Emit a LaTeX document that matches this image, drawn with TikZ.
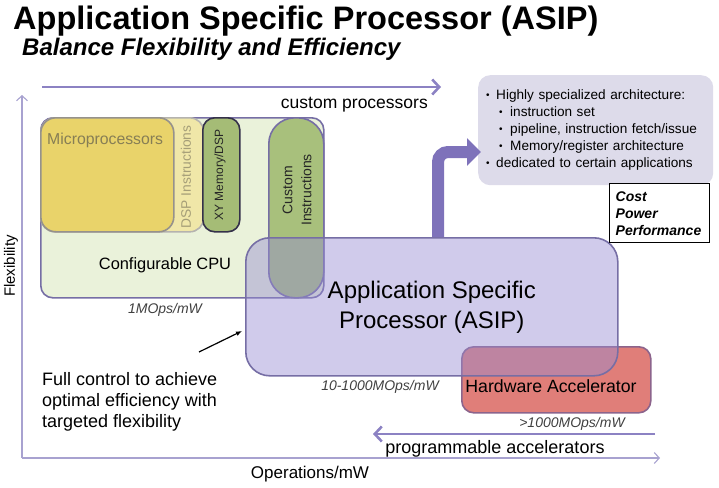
\documentclass[tikz,border=0pt]{standalone}
\usepackage{fontspec}
\setmainfont{Liberation Sans}
\usetikzlibrary{arrows.meta,positioning}

\definecolor{boxline}{RGB}{118,110,165}
\definecolor{cpufill}{RGB}{234,242,218}
\definecolor{microfill}{RGB}{233,211,106}
\definecolor{microline}{RGB}{150,146,140}
\definecolor{dspfill}{RGB}{240,231,168}
\definecolor{xyfill}{RGB}{165,188,118}
\definecolor{custfill}{RGB}{168,192,124}
\definecolor{asipfill}{RGB}{150,140,210}
\definecolor{hwfill}{RGB}{224,126,121}
\definecolor{hwline}{RGB}{140,100,140}
\definecolor{infofill}{RGB}{221,219,234}
\definecolor{arrowcol}{RGB}{126,114,186}
\definecolor{thincol}{RGB}{140,130,195}
\definecolor{axiscol}{RGB}{168,162,208}
\definecolor{microtext}{RGB}{135,126,85}
\definecolor{dsptext}{RGB}{165,158,120}

\newcommand{\fsz}[2]{\fontsize{#1}{#2}\selectfont}
\newcommand{\blt}{\raisebox{1.3pt}{\fsz{10}{10}\textbullet}}
\newcommand{\itm}{\makebox[10pt][l]{\blt}}
\newcommand{\subitm}{\hspace*{13pt}\makebox[11pt][l]{\blt}}

\begin{document}
\begin{tikzpicture}[x=1pt, y=-1pt,
  box/.style={draw=boxline, line width=1.6pt, anchor=north west, inner sep=0pt},
  lbl/.style={inner sep=0pt, align=center},
  rate/.style={lbl, font=\fsz{14}{16}\itshape, text=black!75},
  thinarr/.style={-{Straight Barb[length=7pt,width=15pt]}, line width=2.6pt, draw=thincol},
  axis/.style={-{Straight Barb[length=5pt,width=11pt]}, line width=1.1pt, draw=axiscol},
  fatarr/.style={-{Triangle[length=14pt,width=27pt]}, line width=12pt, draw=arrowcol, rounded corners=10pt}
]
\useasboundingbox (0,0) rectangle (719,487);

\node[anchor=base west, inner sep=0pt, font=\fsz{32.5}{36}\bfseries] (title) at (13,30) {Application Specific Processor (ASIP)};
\node[anchor=base west, inner sep=0pt, font=\fsz{24}{28}\bfseries\itshape] (subtitle) at (22,56) {Balance Flexibility and Efficiency};

\coordinate (origin) at (22,458);
\coordinate (ytop) at (22,95);
\coordinate (xend) at (660,458);
\draw[axis] (origin) -- (ytop);
\draw[axis] (origin) -- (xend);
\node[lbl, rotate=90, font=\fsz{15}{18}] (flex) at (11,266) {Flexibility};
\node[lbl, font=\fsz{17}{20}] (ops) at (310,474) {Operations/mW};

\coordinate (cpstart) at (42,87);
\coordinate (cpend) at (441,87);
\draw[thinarr] (cpstart) -- (cpend);
\node[lbl, font=\fsz{17.5}{20}, below left=10pt and 13pt of cpend] (custproc) {custom processors};

\node[box, fill=cpufill, rounded corners=12pt, minimum width=283, minimum height=180] (cpu) at (40,117) {};
\node[box, fill=dspfill, draw=microline!70, rounded corners=14pt, minimum width=163, minimum height=114] (dsp) at (40,117) {};
\node[box, fill=microfill, draw=microline, rounded corners=15pt, minimum width=133, minimum height=114] (micro) at (40,117) {};
\node[box, fill=xyfill, draw=black!55!boxline, rounded corners=12pt, minimum width=37, minimum height=114] (xy) at (202,117) {};
\node[box, fill=custfill, rounded corners=26pt, minimum width=55, minimum height=180] (cust) at (268,117) {};

\node[lbl, anchor=west, font=\fsz{15.8}{18}, text=microtext] (microtxt) at (47,140) {Microprocessors};
\node[lbl, rotate=90, font=\fsz{13.8}{16}, text=dsptext] (dsptxt) at (186,177) {DSP Instructions};
\node[lbl, rotate=90, font=\fsz{12}{14}, text=black!85] (xytxt) at (220,175) {XY Memory/DSP};
\node[lbl, rotate=90, font=\fsz{14}{19}, text=black!85] (custtxt) at (297,190) {Custom\\Instructions};
\node[lbl, font=\fsz{16.4}{19}] (cputxt) at (165,265) {Configurable CPU};
\node[rate] (rate1) at (165,310) {1MOps/mW};

\node[box, fill=hwfill, draw=hwline, rounded corners=12pt, minimum width=189, minimum height=66] (hw) at (461,346) {};
\node[box, fill=asipfill, fill opacity=0.45, text opacity=1, rounded corners=24pt, minimum width=372, minimum height=138, align=center, font=\fsz{24}{30}] (asip) at (245,237) {Application Specific\\Processor (ASIP)};
\node[lbl, font=\fsz{17.7}{20}] (hwtxt) at (551,386) {Hardware Accelerator};
\node[rate] (rate2) at (380,387) {10-1000MOps/mW};
\node[rate] (rate3) at (572,424) {>1000MOps/mW};

\coordinate (pastart) at (655,434);
\coordinate (paend) at (373,434);
\draw[thinarr] (pastart) -- (paend);
\node[lbl, font=\fsz{18}{20}] (progacc) at (495,449) {programmable accelerators};

\node[lbl, anchor=west, align=left, font=\fsz{18}{21}] (ctrl) at (42,402) {Full control to achieve\\optimal efficiency with\\targeted flexibility};
\coordinate (ctrltail) at (199,352);
\coordinate (ctrlhead) at (242,331);
\draw[-{Latex[length=6pt,width=5pt]}, line width=1.2pt] (ctrltail) -- (ctrlhead);

\node[fill=infofill, rounded corners=12pt, anchor=north west, minimum width=235, minimum height=110, text width=225, inner xsep=5pt, align=left, font=\fsz{13.6}{17}] (info) at (478,75) {\hspace*{3pt}\itm Highly specialized architecture:\\\hspace*{3pt}\subitm instruction set\\\hspace*{3pt}\subitm pipeline, instruction fetch/issue\\\hspace*{3pt}\subitm Memory/register architecture\\\hspace*{3pt}\itm dedicated to certain applications};
\node[draw=black, line width=1.4pt, fill=white, anchor=north west, text width=88, inner xsep=6pt, minimum height=59, align=left, font=\fsz{14}{17}\bfseries\itshape] (cost) at (609,183) {Cost\\Power\\Performance};

\coordinate (bendfoot) at (438,237);
\coordinate (bendtip) at (481,152);
\draw[fatarr] (bendfoot) |- (bendtip);
\end{tikzpicture}
\end{document}
